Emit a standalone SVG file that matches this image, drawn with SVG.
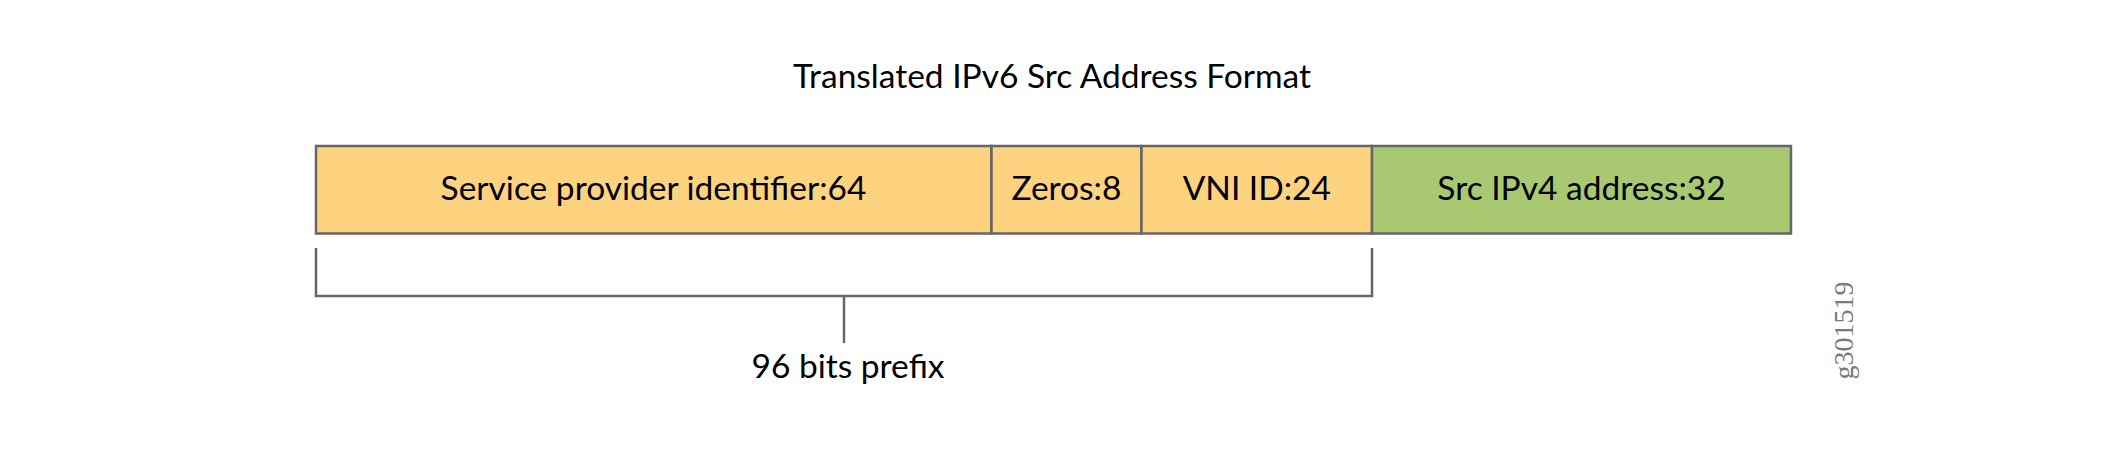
<svg xmlns="http://www.w3.org/2000/svg" width="2101" height="451" viewBox="0 0 2101 451">
<style>
.lbl{font-family:Lato,"Liberation Sans",sans-serif;font-size:33.5px;fill:#000;text-anchor:middle}
.box{stroke:#666;stroke-width:2.5}
.orange{fill:#FED37F}
.green{fill:#A8C971}
.line{fill:none;stroke:#666;stroke-width:2.5}
.fig{font-family:"Liberation Serif",serif;font-size:28px;fill:#7a7a7a;text-anchor:middle}
</style>
<rect width="2101" height="451" fill="#fff"/>
<text id="title" class="lbl" x="1052" y="88">Translated IPv6 Src Address Format</text>
<g id="spid">
<rect class="box orange" x="316" y="146" width="675.5" height="87.5"/>
<text class="lbl" x="653.5" y="200">Service provider identifier:64</text>
</g>
<g id="zeros">
<rect class="box orange" x="991.5" y="146" width="150" height="87.5"/>
<text class="lbl" x="1066.5" y="200">Zeros:8</text>
</g>
<g id="vni">
<rect class="box orange" x="1141.5" y="146" width="230.5" height="87.5"/>
<text class="lbl" x="1256.8" y="200">VNI ID:24</text>
</g>
<g id="srcipv4">
<rect class="box green" x="1372" y="146" width="419" height="87.5"/>
<text class="lbl" x="1581.5" y="200">Src IPv4 address:32</text>
</g>
<g id="connectors">
<path class="line" d="M316,248 V296 H1372 V248"/>
<path class="line" d="M844,296 V343"/>
</g>
<g id="prefix">
<text class="lbl" x="848" y="378">96 bits prefix</text>
</g>
<text class="fig" transform="translate(1853,330.5) rotate(-90)">g301519</text>
</svg>
